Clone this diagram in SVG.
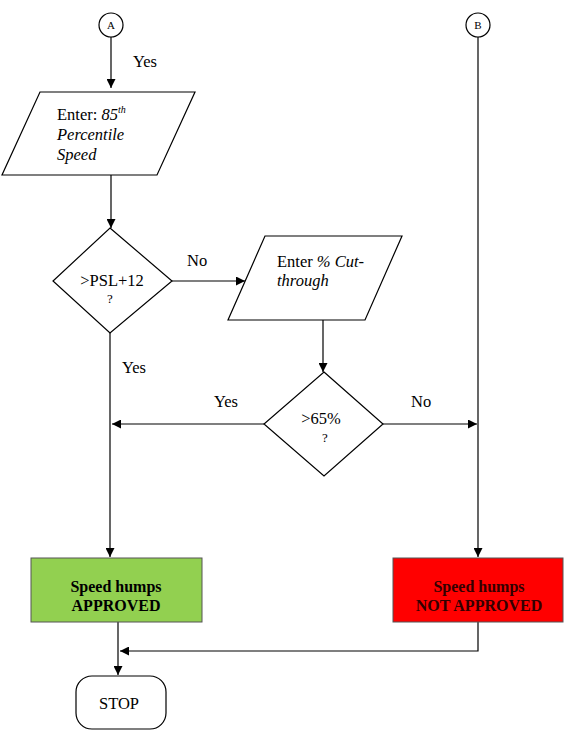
<svg xmlns="http://www.w3.org/2000/svg" width="564" height="735" viewBox="0 0 564 735" font-family="'Liberation Serif', 'DejaVu Serif', serif">
<defs>
<marker id="ah" viewBox="0 0 10 10" refX="10" refY="5" markerWidth="9" markerHeight="9" markerUnits="userSpaceOnUse" orient="auto">
<path d="M0,0 L10,5 L0,10 z" fill="#000"/>
</marker>
<style>
.s{fill:#fff;stroke:#000;stroke-width:1.2}
.c{fill:none;stroke:#000;stroke-width:1.2}
text{font-family:'Liberation Serif','DejaVu Serif',serif;font-size:16.5px;fill:#000}
.sm{font-size:11px}
.q{font-size:13px}
.b{font-weight:bold;font-size:16px}
.i{font-style:italic}
</style>
</defs>
<rect width="564" height="735" fill="#fff"/>
<g id="connectors">
<path class="c" d="M111,37 V88" marker-end="url(#ah)"/>
<path class="c" d="M111,175 V228" marker-end="url(#ah)"/>
<path class="c" d="M172,281 H245" marker-end="url(#ah)"/>
<path class="c" d="M323,320 V372" marker-end="url(#ah)"/>
<path class="c" d="M264,424 H112" marker-end="url(#ah)"/>
<path class="c" d="M383,424 H477" marker-end="url(#ah)"/>
<path class="c" d="M110,333 V557" marker-end="url(#ah)"/>
<path class="c" d="M478,37 V557" marker-end="url(#ah)"/>
<path class="c" d="M118,622 V675" marker-end="url(#ah)"/>
<path class="c" d="M478,622 V651 H120" marker-end="url(#ah)"/>
<text x="133" y="67">Yes</text>
<text x="187" y="266">No</text>
<text x="122" y="373">Yes</text>
<text x="214" y="407">Yes</text>
<text x="411" y="407">No</text>
</g>
<g id="nodeA">
<circle class="s" cx="111" cy="25" r="12"/>
<text class="sm" x="111" y="29" text-anchor="middle">A</text>
</g>
<g id="nodeB">
<circle class="s" cx="478" cy="25" r="12"/>
<text class="sm" x="478" y="29" text-anchor="middle">B</text>
</g>
<g id="input1">
<polygon class="s" points="40,92 195,92 157,175 2,175"/>
<text x="57" y="120">Enter: <tspan class="i">85</tspan><tspan class="i" font-size="10" dy="-7">th</tspan></text>
<text class="i" x="57" y="140">Percentile</text>
<text class="i" x="57" y="160">Speed</text>
</g>
<g id="decision1">
<polygon class="s" points="110,228 172,281 110,333 53,281"/>
<text x="112" y="286" text-anchor="middle">&gt;PSL+12</text>
<text class="q" x="110" y="303" text-anchor="middle">?</text>
</g>
<g id="input2">
<polygon class="s" points="265,236 402,236 365,320 228,320"/>
<text x="277" y="267">Enter <tspan class="i">% Cut-</tspan></text>
<text class="i" x="277" y="286">through</text>
</g>
<g id="decision2">
<polygon class="s" points="324,372 383,424 324,476 264,424"/>
<text x="321" y="424" text-anchor="middle">&gt;65%</text>
<text class="q" x="325" y="442" text-anchor="middle">?</text>
</g>
<g id="approved">
<rect x="31" y="558" width="171" height="64" fill="#92D050" stroke="#555" stroke-width="1"/>
<text class="b" x="116" y="592" text-anchor="middle">Speed humps</text>
<text class="b" x="116" y="611" text-anchor="middle">APPROVED</text>
</g>
<g id="notapproved">
<rect x="393" y="558" width="170" height="64" fill="#FF0000" stroke="#555" stroke-width="1"/>
<text class="b" x="479" y="592" text-anchor="middle" style="fill:#300">Speed humps</text>
<text class="b" x="479" y="611" text-anchor="middle" style="fill:#300">NOT APPROVED</text>
</g>
<g id="stop">
<rect class="s" x="76" y="676" width="90" height="53" rx="16" ry="16"/>
<text x="119" y="709" text-anchor="middle">STOP</text>
</g>
</svg>
